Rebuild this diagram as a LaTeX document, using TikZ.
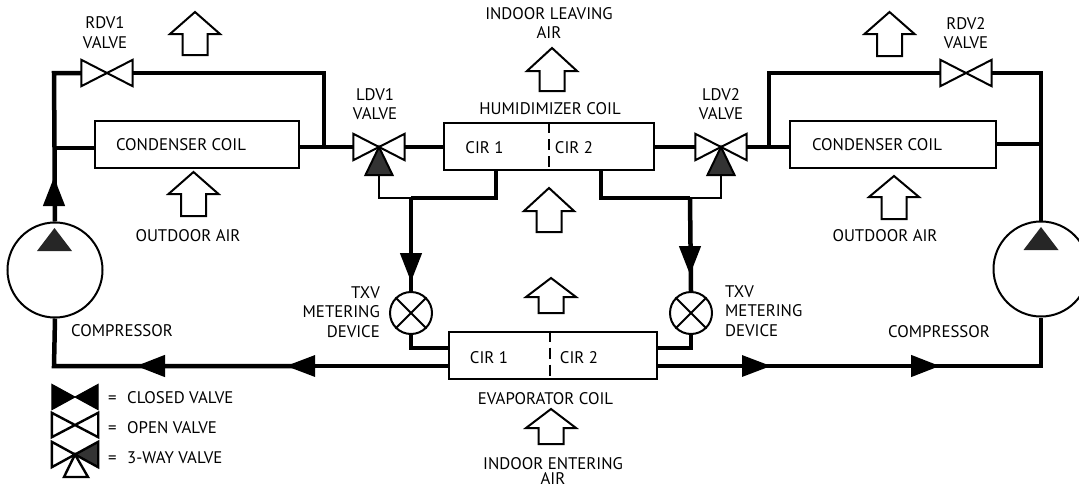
\documentclass[tikz,border=0pt]{standalone}
\usepackage{fontspec}
\setmainfont{PT Sans}
\usetikzlibrary{arrows.meta,calc}
\tikzset{coil/.style={draw,line width=2,fill=white,inner sep=0},
 vlv/.style={minimum width=51,minimum height=26,inner sep=0},
 comp/.style={draw,circle,line width=2,minimum size=95,inner sep=0},
 txv/.style={draw,circle,line width=2,minimum size=42,inner sep=0},
 pipe/.style={line width=4.5},pipem/.style={line width=3.2},tube/.style={line width=2},
 flow/.style={line width=4.5,-{Triangle[length=29,width=21]}},
 lab/.style={align=center,inner sep=0,font=\fontsize{16.8}{19.6}\selectfont},
 air/.style={line width=2,fill=white}}
\begin{document}
\begin{tikzpicture}[x=1pt,y=-1pt]
\useasboundingbox (0,0) rectangle (1079,490);
% coils, valves, compressors
\node[coil,minimum width=204,minimum height=47](lcoil) at (197,144.5){};
\node[coil,minimum width=206,minimum height=47](rcoil) at (893,144.5){};
\node[coil,minimum width=210,minimum height=47](hum) at (549,146.5){};
\node[coil,minimum width=208,minimum height=47](evap) at (553,355){};
\node[vlv](rdvl) at (107,73){};\node[vlv](rdvr) at (966,73){};
\node[vlv](ldvl) at (379,147){};\node[vlv](ldvr) at (721,147){};
\node[comp](lcomp) at (55,270){};\node[comp](rcomp) at (1041,269){};
\node[txv](ltxv) at (411,313){};\node[txv](rtxv) at (691,313){};
\coordinate (lj1) at (54,73);\coordinate (lj2) at (54,148);\coordinate (lj3) at (324,73);
\coordinate (lj4) at (324,146);\coordinate (lup) at (54,177);\coordinate (lupb) at (54,206);
\coordinate (rj1) at (1041,73);\coordinate (rj2) at (1041,144);\coordinate (rj3) at (769,73);
\coordinate (rj4) at (769,147);
\coordinate (lprt) at (379,175);\coordinate (lj5) at (379,198);\coordinate (lj6) at (411,198);
\coordinate (lj7) at (496,198);\coordinate (ltip) at (411,282);\coordinate (ltipb) at (411,253);
\coordinate (rprt) at (721,173);\coordinate (rj5) at (721,198);\coordinate (rj6) at (690,198);
\coordinate (rj7) at (601,198);\coordinate (rtip) at (690,275);\coordinate (rtipb) at (690,246);
\coordinate (ep1) at (430,348);\coordinate (ep2) at (670,348);
\coordinate (eout) at (449,366);\coordinate (lt1) at (286,366);\coordinate (lt2) at (136,366);\coordinate (lbot) at (54,366);
\coordinate (lb1) at (315,366);\coordinate (lb2) at (165,366);
\coordinate (rout) at (657,366);\coordinate (rt1) at (771,366);\coordinate (rt2) at (940,366);\coordinate (rbot) at (1041,366);
\coordinate (rb1) at (742,366);\coordinate (rb2) at (911,366);
% left circuit
\draw[pipe](lcomp.north)--(lj1)--(rdvl.west);\draw[flow](lupb)--(lup);
\draw[pipe](rdvl.east)--(lj3)--(lj4);
\draw[pipe](lj2)--(lj2-|lcoil.west);
\draw[pipe](ldvl.west-|lcoil.east)--(ldvl.west);\draw[pipe](ldvl.east)--(ldvl.east-|hum.west);
\draw[tube](lprt)--(lj5)--(lj6);
\draw[pipe](lj6)--(lj7)--(lj7|-hum.south);
\draw[pipe](lj6)--(ltxv.north);\draw[flow](ltipb)--(ltip);
\draw[pipe](ltxv.south)--(ltxv.south|-ep1)--(evap.west|-ep1);
\draw[pipem,-{Triangle[length=29,width=21]}](eout)--(lt1);
\draw[pipe](lb1)--(lbot)--(lcomp.south);\draw[flow](lb2)--(lt2);
% right circuit
\draw[pipe](rcomp.north)--(rj1)--(rdvr.east);\draw[pipe](rdvr.west)--(rj3)--(rj4);
\draw[pipe](rj2-|rcoil.east)--(rj2);
\draw[pipe](ldvr.east)--(ldvr.east-|rcoil.west);\draw[pipe](ldvr.west)--(ldvr.west-|hum.east);
\draw[tube](rprt)--(rj5)--(rj6);
\draw[pipe](rj6)--(rj7)--(rj7|-hum.south);
\draw[pipe](rj6)--(rtxv.north);\draw[flow](rtipb)--(rtip);
\draw[pipe](rtxv.south)--(rtxv.south|-ep2)--(evap.east|-ep2);
\draw[pipem,-{Triangle[length=29,width=21]}](rout)--(rt1);
\draw[pipe](rb1)--(rbot)--(rcomp.south);\draw[flow](rb2)--(rt2);
% valves and symbols
\foreach \n in {rdvl,rdvr,ldvl,ldvr}
 \draw[tube,fill=white](\n.south west)--(\n.north east)--(\n.south east)--(\n.north west)--cycle;
\foreach \n in {ldvl,ldvr}
 \draw[tube,fill=black!80](\n.center)--++(-13.5,28)--++(27,0)--cycle;
\foreach \x/\y in {54.5/228,1041/227}
 \fill[black!85](\x,\y)--++(-17.5,23)--++(35,0)--cycle;
\foreach \n in {ltxv,rtxv}{
 \draw[tube](\n.45)--(\n.225);\draw[tube](\n.135)--(\n.315);}
\draw[tube,dash pattern=on 11 off 6](hum.north)--(hum.south);
\draw[tube,dash pattern=on 11 off 6]([xshift=-3]evap.north)--([xshift=-3]evap.south);
% air arrows
\foreach \x/\t/\s/\b in {195/12/34/55,193.5/172/194/216,889.5/12/34/56,894/176/197/219,552/48/71/91,549/188/211/232,551/278/297/313,551/409/428/444}
 \draw[air](\x,\t)--(\x+25,\s)--(\x+12.5,\s)--(\x+12.5,\b)--(\x-12.5,\b)--(\x-12.5,\s)--(\x-25,\s)--cycle;
% legend
\node[vlv,minimum width=46,minimum height=25](lgcl) at (75,397){};
\node[vlv,minimum width=46,minimum height=24](lgop) at (75,425){};
\node[vlv,minimum width=46,minimum height=25](lgtw) at (75,454.5){};
\draw[line width=1,fill=black](lgcl.south west)--(lgcl.north east)--(lgcl.south east)--(lgcl.north west)--cycle;
\draw[line width=2.4,fill=white](lgop.south west)--(lgop.north east)--(lgop.south east)--(lgop.north west)--cycle;
\draw[line width=2.4,fill=white](lgtw.north west)--(lgtw.south west)--(lgtw.center)--cycle;
\draw[line width=2.4,fill=black!80](lgtw.north east)--(lgtw.south east)--(lgtw.center)--cycle;
\draw[line width=2.4,fill=white](lgtw.center)--(64,477)--(88,477)--cycle;
% labels
\node[lab](trdvl) at (105,32.5){RDV1\\VALVE};
\node[lab](trdvr) at (966,33){RDV2\\VALVE};
\node[lab](tldvl) at (375,104){LDV1\\VALVE};
\node[lab](tldvr) at (721,104){LDV2\\VALVE};
\node[lab](tleave) at (549,23){INDOOR LEAVING\\AIR};
\node[lab](thum) at (550,109){HUMIDIMIZER COIL};
\node[lab](tlcoil) at (181,145){CONDENSER COIL};
\node[lab](trcoil) at (877,145){CONDENSER COIL};
\node[lab](tlout) at (188,236){OUTDOOR AIR};
\node[lab](trout) at (885,236){OUTDOOR AIR};
\node[lab](thc1) at (484.5,148){CIR 1};
\node[lab](thc2) at (574,148){CIR 2};
\node[lab](tec1) at (489,358){CIR 1};
\node[lab](tec2) at (579,358){CIR 2};
\node[lab,align=right,anchor=east](tltxv) at (380,312){TXV\\METERING\\DEVICE};
\node[lab,align=left,anchor=west](trtxv) at (725,311){TXV\\METERING\\DEVICE};
\node[lab](tlcomp) at (122,331){COMPRESSOR};
\node[lab](trcomp) at (939,332){COMPRESSOR};
\node[lab](tevap) at (545.5,399){EVAPORATOR COIL};
\node[lab](tenter) at (553,464){INDOOR ENTERING};
\node[lab](tenair) at (553,479){AIR};
\node[lab,anchor=west](tlgcl) at (108,398){=\hspace{10.5pt}CLOSED VALVE};
\node[lab,anchor=west](tlgop) at (108,428){=\hspace{10.5pt}OPEN VALVE};
\node[lab,anchor=west](tlgtw) at (108,458){=\hspace{10.5pt}3-WAY VALVE};
\end{tikzpicture}
\end{document}
